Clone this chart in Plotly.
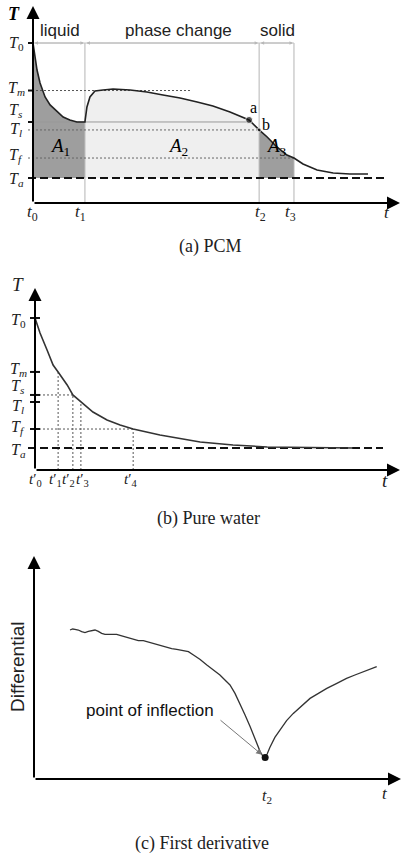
import numpy as np
import plotly.graph_objects as go

W, H = 404, 855
SERIF = "Liberation Serif"
SANS = "Liberation Sans"

# ---------------- (a) PCM cooling curve ----------------
pcm_t = [0.0, 0.6, 1.2, 2.1, 3.6, 5.1, 7.2, 9.0, 11.0, 13.1, 15.5, 15.7, 16.1, 17.0,
         18.5, 20.9, 23.9, 29.0, 34.0, 38.8, 43.9, 49.0, 53.7, 58.8, 64.5, 67.5,
         69.9, 72.8, 75.8, 77.9, 80.6, 84.8, 89.6, 94.6, 100.0]
pcm_T = [100.0, 89.6, 80.0, 70.4, 60.0, 54.1, 48.9, 45.2, 43.0, 41.5, 41.5, 45.2,
         52.6, 60.0, 64.4, 65.2, 65.9, 65.2, 63.7, 61.5, 59.3, 56.3, 53.3, 48.9,
         43.0, 35.6, 30.4, 23.0, 17.0, 14.8, 10.4, 5.9, 3.7, 3.0, 3.0]
pcm_level_labels = ["<i>T</i><sub>0</sub>", "<i>T</i><sub><i>m</i></sub>", "<i>T</i><sub><i>s</i></sub>",
                    "<i>T</i><sub><i>l</i></sub>", "<i>T</i><sub><i>f</i></sub>", "<i>T</i><sub><i>a</i></sub>"]
pcm_levels = [100.0, 64.8, 41.5, 35.6, 14.8, 0.0]          # T0, Tm, Ts, Tl, Tf, Ta
pcm_time_labels = ["<i>t</i><sub>0</sub>", "<i>t</i><sub>1</sub>", "<i>t</i><sub>2</sub>", "<i>t</i><sub>3</sub>"]
pcm_times = [0.0, 15.5, 67.5, 77.9]                          # t0..t3
pcm_phases = ["liquid", "phase change", "solid"]
pcm_areas = ["<i>A</i><sub>1</sub>", "<i>A</i><sub>2</sub>", "<i>A</i><sub>3</sub>"]
pcm_point_names = ["a", "b"]
pcm_point_t = [64.5, 67.5]
pcm_point_T = [43.0, 35.6]

# ---------------- (b) Pure water cooling curve ----------------
water_t = [0.0, 1.5, 3.6, 5.4, 6.9, 9.6, 11.3, 13.7, 17.3, 21.5, 25.4, 29.3, 37.3,
           49.3, 59.1, 69.3, 94.9]
water_T = [100.0, 88.5, 75.4, 63.8, 58.5, 48.5, 40.8, 35.4, 27.7, 21.5, 17.7, 14.6,
           10.0, 4.6, 2.3, 0.8, 0.0]
water_level_labels = pcm_level_labels
water_levels = [100.0, 58.5, 40.8, 35.4, 14.6, 0.0]        # T0, Tm, Ts, Tl, Tf, Ta
water_time_labels = ["<i>t</i>′<sub>0</sub>", "<i>t</i>′<sub>1</sub>", "<i>t</i>′<sub>2</sub>",
                     "<i>t</i>′<sub>3</sub>", "<i>t</i>′<sub>4</sub>"]
water_times = [0.0, 6.9, 11.3, 13.7, 29.3]

# ---------------- (c) First derivative ----------------
deriv_t = [10.75, 11.54, 12.24, 13.23, 14.23, 15.22, 16.22, 17.21, 18.21, 19.2, 20.2,
           21.19, 22.69, 24.68, 25.67, 27.66, 29.65, 31.15, 32.64, 34.14, 35.63, 37.61,
           39.6, 41.1, 42.6, 44.6, 46.1, 47.6, 49.6, 51.6, 53.5, 55.5, 57.0, 58.5, 60.0,
           61.5, 63.0, 64.5, 65.5, 66.5, 67.5, 68.3, 69.0, 69.6, 70.4, 71.9, 73.4, 75.4,
           77.4, 79.9, 82.4, 84.9, 87.4, 90.4, 93.3, 95.8, 98.3, 100.3, 102.3]
deriv_D = [74.5, 75.0, 74.8, 74.5, 73.7, 73.2, 73.8, 74.3, 74.5, 73.8, 72.8, 72.3, 72.3,
           72.3, 71.8, 70.8, 69.8, 69.2, 69.2, 68.5, 67.8, 66.8, 65.8, 65.2, 64.8, 64.2,
           63.7, 62.0, 59.8, 57.0, 54.5, 52.0, 49.5, 47.0, 42.8, 37.8, 32.0, 26.2, 22.0,
           17.8, 13.7, 11.5, 10.8, 12.5, 15.8, 20.8, 24.5, 29.2, 32.8, 36.8, 40.3, 42.8,
           45.3, 47.8, 50.3, 52.0, 53.7, 54.8, 56.2]
inflection_t = 69.0
inflection_D = 10.8

# ---------------- layout helpers ----------------
PAN = {
    "a": dict(xa="x", ya="y", x0=33, sx=3.35, y0=178, sy=1.35, xdom=(20, 404), ydom=(0, 212)),
    "b": dict(xa="x2", ya="y2", x0=35, sx=3.35, y0=448, sy=1.30, xdom=(20, 404), ydom=(275, 480)),
    "c": dict(xa="x3", ya="y3", x0=34, sx=3.35, y0=779, sy=2.00, xdom=(20, 404), ydom=(548, 790)),
}


def dx(p, px):
    return (px - p["x0"]) / p["sx"]


def dy(p, py):
    return (p["y0"] - py) / p["sy"]


fig = go.Figure()


def line(p, xs, ys, color="black", width=1, dash=None):
    fig.add_trace(go.Scatter(x=list(xs), y=list(ys), xaxis=p["xa"], yaxis=p["ya"], mode="lines",
                             line=dict(color=color, width=width, dash=dash),
                             hoverinfo="skip", showlegend=False))


def arrow(p, x, y, ax, ay, color="black", width=2, size=1.3, head=2, side="end", standoff=0):
    fig.add_annotation(x=x, y=y, ax=ax, ay=ay, xref=p["xa"], yref=p["ya"], axref=p["xa"],
                       ayref=p["ya"], text="", showarrow=True, arrowhead=head, arrowsize=size,
                       arrowwidth=width, arrowcolor=color, arrowside=side, standoff=standoff,
                       startarrowhead=head, startarrowsize=size, font=dict(size=10))


def text_px(xpx, ypx, txt, size, family=SERIF, color="black", angle=0, xanchor="center"):
    fig.add_annotation(x=xpx / W, y=1 - ypx / H, xref="paper", yref="paper", text=txt,
                       showarrow=False, font=dict(family=family, size=size, color=color),
                       textangle=angle, xanchor=xanchor, yanchor="middle")


def ylabel(p, xpx, yval, txt, size, yshift=0):
    fig.add_annotation(x=xpx / W, y=yval, xref="paper", yref=p["ya"], text=txt, showarrow=False,
                       font=dict(family=SERIF, size=size, color="#222"), xanchor="center",
                       yanchor="middle", yshift=yshift)


def xlabel(p, xval, yval, txt, size, xshift=0, yshift=-10):
    fig.add_annotation(x=xval, y=yval, xref=p["xa"], yref=p["ya"], text=txt, showarrow=False,
                       font=dict(family=SERIF, size=size, color="#222"), xanchor="center",
                       yanchor="middle", xshift=xshift, yshift=yshift)


def fill(p, ts, vs, lo, hi, base, color):
    ts = np.asarray(ts)
    vs = np.asarray(vs)
    m = (ts >= lo) & (ts <= hi)
    xs = list(ts[m]) + [hi, lo]
    ys = list(vs[m]) + [base, base]
    fig.add_trace(go.Scatter(x=xs, y=ys, xaxis=p["xa"], yaxis=p["ya"], mode="lines",
                             fill="toself", fillcolor=color, line=dict(width=0),
                             hoverinfo="skip", showlegend=False))


# ================= panel (a) =================
pa = PAN["a"]
T0, Tm, Ts, Tl, Tf, Ta = pcm_levels
t0, t1, t2, t3 = pcm_times
org_a = dy(pa, 203)
left_a = dx(pa, 28)

fill(pa, pcm_t, pcm_T, t0, t1, Ta, "#9e9e9e")
fill(pa, pcm_t, pcm_T, t1, t2, Ta, "#efefef")
fill(pa, pcm_t, pcm_T, t2, t3, Ta, "#9e9e9e")

for tv in (t1, t2, t3):
    line(pa, [tv, tv], [org_a, T0], color="#b4b4b4", width=1)
line(pa, [t0, t3], [T0, T0], color="#c4c4c4", width=1)
for lo, hi in ((t0, t1), (t1, t2), (t2, t3)):
    arrow(pa, hi, T0, lo, T0, color="#b8b8b8", width=1, size=0.7, head=2, side="end+start", standoff=1)

line(pa, [left_a, dx(pa, 192)], [Tm, Tm], color="#555", width=1, dash="2px,2px")
line(pa, [left_a, pcm_point_t[0]], [Ts, Ts], color="#9a9a9a", width=1)
line(pa, [left_a, t2], [Tl, Tl], color="#666", width=1, dash="2px,2px")
line(pa, [left_a, t3], [Tf, Tf], color="#666", width=1, dash="2px,2px")
line(pa, [left_a, dx(pa, 387)], [Ta, Ta], color="#111", width=2, dash="8px,4px")
for lv in (T0, Tm, Ts):
    line(pa, [left_a, 0], [lv, lv], color="#111", width=2)

line(pa, pcm_t, pcm_T, color="#222", width=1.6)
fig.add_trace(go.Scatter(x=pcm_point_t, y=pcm_point_T, xaxis=pa["xa"], yaxis=pa["ya"],
                         mode="markers", marker=dict(color="#111", size=[7, 4]),
                         hoverinfo="skip", showlegend=False))

arrow(pa, 0, dy(pa, 6), 0, org_a, width=2, size=1.3)
arrow(pa, dx(pa, 400), org_a, 0, org_a, width=2, size=1.3)

text_px(14, 14, "<b><i>T</i></b>", 18)
for lbl, lv, sh in zip(pcm_level_labels, pcm_levels, (0, 2, 11, 0, 3, -1)):
    ylabel(pa, 16, lv, lbl, 16, yshift=sh)
for lbl, tv, xs in zip(pcm_time_labels, pcm_times, (-1, -4, 1, -3)):
    xlabel(pa, tv, org_a, lbl, 17, xshift=xs, yshift=-10)
text_px(387, 212, "<i>t</i>", 17, color="#222")
text_px(60, 31, pcm_phases[0], 17, family=SANS, color="#222")
text_px(178, 31, pcm_phases[1], 17, family=SANS, color="#222")
text_px(277, 31, pcm_phases[2], 17, family=SANS, color="#222")
text_px(60, 147, pcm_areas[0], 19)
text_px(178, 147, pcm_areas[1], 19)
text_px(276, 147, pcm_areas[2], 19)
text_px(253, 108, pcm_point_names[0], 16)
text_px(266, 125, pcm_point_names[1], 16)
text_px(210, 247, "(a) PCM", 18, color="#222")

# ================= panel (b) =================
pb = PAN["b"]
W0, Wm, Ws, Wl, Wf, Wa = water_levels
org_b = dy(pb, 470)

line(pb, [0, water_times[2]], [Ws, Ws], color="#555", width=1, dash="2px,2px")
line(pb, [0, water_times[4]], [Wf, Wf], color="#555", width=1, dash="2px,2px")
for tv in water_times[1:]:
    cv = float(np.interp(tv, water_t, water_T))
    line(pb, [tv, tv], [org_b, cv], color="#555", width=1, dash="2px,2px")
line(pb, [dx(pb, 28), dx(pb, 383)], [Wa, Wa], color="#111", width=2, dash="8px,4px")
for lv in (W0, Wm, Ws, Wl, Wf):
    line(pb, [dx(pb, 30), dx(pb, 40)], [lv, lv], color="#111", width=2)

line(pb, water_t, water_T, color="#333", width=1.6)

arrow(pb, 0, dy(pb, 288), 0, org_b, width=2, size=1.3)
arrow(pb, dx(pb, 400), org_b, 0, org_b, width=2, size=1.3)

text_px(18, 285, "<i>T</i>", 19, color="#222")
for lbl, lv, sh in zip(water_level_labels, water_levels, (-2, 2, 8, -5, 2, -2)):
    ylabel(pb, 18, lv, lbl, 16, yshift=sh)
for lbl, tv, xs in zip(water_time_labels, water_times, (0, -3, -4, 2, -3)):
    xlabel(pb, tv, org_b, lbl, 15, xshift=xs, yshift=-10)
text_px(385, 480, "<i>t</i>", 19, color="#222")
text_px(208, 518, "(b) Pure water", 18, color="#222")

# ================= panel (c) =================
pc = PAN["c"]
org_c = 0.0

line(pc, deriv_t, deriv_D, color="#333", width=1.3)
fig.add_trace(go.Scatter(x=[inflection_t], y=[inflection_D], xaxis=pc["xa"], yaxis=pc["ya"],
                         mode="markers", marker=dict(color="#111", size=7),
                         hoverinfo="skip", showlegend=False))
arrow(pc, inflection_t, inflection_D, dx(pc, 219), dy(pc, 719), color="#777", width=1,
      size=1.2, head=2, standoff=4)

arrow(pc, 0, dy(pc, 556), 0, org_c, width=2, size=1.3)
arrow(pc, dx(pc, 401), org_c, 0, org_c, width=2, size=1.3)

text_px(150, 710, "point of inflection", 17, family=SANS, color="#111")
text_px(17, 667, "Differential", 19, family=SANS, color="#222", angle=-90)
xlabel(pc, inflection_t, org_c, "<i>t</i><sub>2</sub>", 16, xshift=2, yshift=-17)
text_px(385, 793, "<i>t</i>", 17, color="#222")
text_px(202, 843, "(c) First derivative", 18, color="#222")

# ---------------- axes ----------------
layout_axes = {}
for key, (xn, yn) in zip("abc", (("xaxis", "yaxis"), ("xaxis2", "yaxis2"), ("xaxis3", "yaxis3"))):
    p = PAN[key]
    layout_axes[xn] = dict(domain=[p["xdom"][0] / W, p["xdom"][1] / W],
                           range=[dx(p, p["xdom"][0]), dx(p, p["xdom"][1])],
                           visible=False, anchor=p["ya"], fixedrange=True)
    layout_axes[yn] = dict(domain=[1 - p["ydom"][1] / H, 1 - p["ydom"][0] / H],
                           range=[dy(p, p["ydom"][1]), dy(p, p["ydom"][0])],
                           visible=False, anchor=p["xa"], fixedrange=True)

fig.update_layout(width=W, height=H, margin=dict(l=0, r=0, t=0, b=0),
                  paper_bgcolor="white", plot_bgcolor="rgba(0,0,0,0)",
                  showlegend=False, **layout_axes)

fig.write_html("out.html", config={"displayModeBar": False})
